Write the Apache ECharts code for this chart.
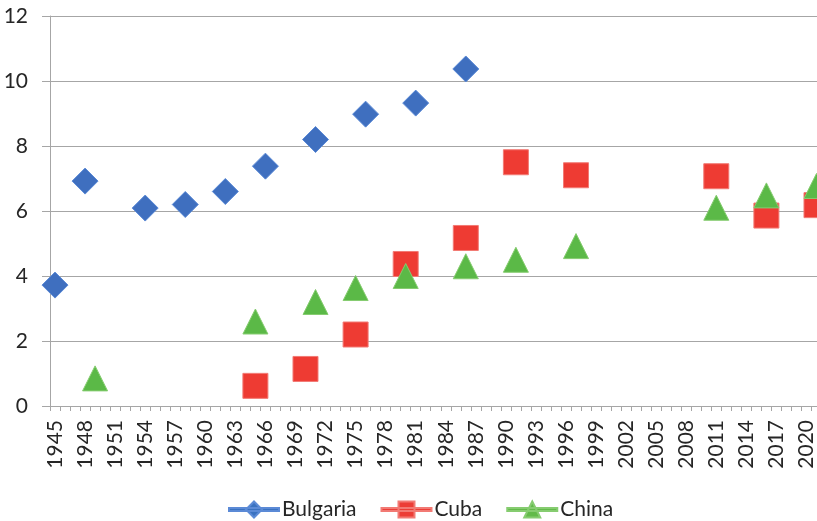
<!DOCTYPE html>
<html>
<head>
<meta charset="utf-8">
<script src="https://cdn.jsdelivr.net/npm/echarts@6/dist/echarts.min.js"></script>
<style>
html,body{margin:0;padding:0;background:#fff;}
#chart{width:817px;height:521px;}
</style>
</head>
<body>
<div id="chart"></div>
<script>
// Categories: every year from 1945 to 2021
const years = [];
for (let y = 1945; y <= 2021; y++) years.push(String(y));

const bulgariaYears = [1945, 1948, 1954, 1958, 1962, 1966, 1971, 1976, 1981, 1986];
const bulgariaValues = [3.72, 6.92, 6.09, 6.2, 6.6, 7.38, 8.2, 8.98, 9.32, 10.37];

const cubaYears = [1965, 1970, 1975, 1980, 1986, 1991, 1997, 2011, 2016, 2021];
const cubaValues = [0.62, 1.14, 2.2, 4.37, 5.17, 7.5, 7.1, 7.07, 5.86, 6.18];

const chinaYears = [1949, 1965, 1971, 1975, 1980, 1986, 1991, 1997, 2011, 2016, 2021];
const chinaValues = [0.85, 2.6, 3.2, 3.63, 4.0, 4.3, 4.5, 4.92, 6.1, 6.48, 6.77];

const yTicks = { min: 0, max: 12, interval: 2 };

function pairs(ys, vs) { return ys.map((y, i) => [String(y), vs[i]]); }

const FONT = 'Lato, "Liberation Sans", sans-serif';
const GRID_COLOR = '#a6a6a6';

const chart = echarts.init(document.getElementById('chart'), null, { renderer: 'canvas' });
chart.setOption({
  animation: false,
  backgroundColor: '#ffffff',
  grid: { left: 50, top: 16, bottom: 115, right: -4.5, containLabel: false, outerBoundsMode: 'none' },
  xAxis: {
    type: 'category',
    data: years,
    boundaryGap: true,
    axisLine: { show: true, lineStyle: { color: GRID_COLOR, width: 1 } },
    axisTick: { show: true, interval: 0, length: 5, lineStyle: { color: GRID_COLOR } },
    axisLabel: { interval: 2, rotate: 90, margin: 14, fontSize: 21, color: '#262626', fontFamily: FONT },
    splitLine: { show: false }
  },
  yAxis: {
    type: 'value',
    min: yTicks.min, max: yTicks.max, interval: yTicks.interval,
    axisLine: { show: true, lineStyle: { color: GRID_COLOR, width: 1 } },
    axisTick: { show: true, inside: false, length: 8, lineStyle: { color: GRID_COLOR } },
    axisLabel: { margin: 22, fontSize: 21, color: '#262626', fontFamily: FONT },
    splitLine: { show: true, lineStyle: { color: GRID_COLOR, width: 1 } }
  },
  legend: {
    left: 223, top: 494,
    itemWidth: 50, itemHeight: 16, itemGap: 24,
    textStyle: { fontSize: 21, color: '#262626', fontFamily: FONT, padding: [0, 0, 0, -2] },
    data: [
      { name: 'Bulgaria', icon: 'path://M0,6.5H50V9.5H0Z M25,0L33,8L25,16L17,8Z', itemStyle: { color: '#3a72c0' } },
      { name: 'Cuba', icon: 'path://M0,6.5H50V9.5H0Z M17,0H33V16H17Z', itemStyle: { color: '#ec3d36' } },
      { name: 'China', icon: 'path://M0,6.5H50V9.5H0Z M25,0L33,16H17Z', itemStyle: { color: '#62ba4a' } }
    ]
  },
  series: [
    {
      name: 'Bulgaria', type: 'scatter', symbol: 'diamond', symbolSize: 26,
      itemStyle: { color: '#3f6fbf', borderColor: '#5b8ad6', borderWidth: 1, opacity: 1 },
      data: pairs(bulgariaYears, bulgariaValues)
    },
    {
      name: 'Cuba', type: 'scatter', symbol: 'rect', symbolSize: 25,
      itemStyle: { color: '#ee3b33', borderColor: '#f27a74', borderWidth: 1, opacity: 1 },
      data: pairs(cubaYears, cubaValues)
    },
    {
      name: 'China', type: 'scatter', symbol: 'triangle', symbolSize: 25,
      itemStyle: { color: '#5bb947', borderColor: '#86cc70', borderWidth: 1, opacity: 1 },
      data: pairs(chinaYears, chinaValues)
    }
  ]
});
</script>
</body>
</html>
